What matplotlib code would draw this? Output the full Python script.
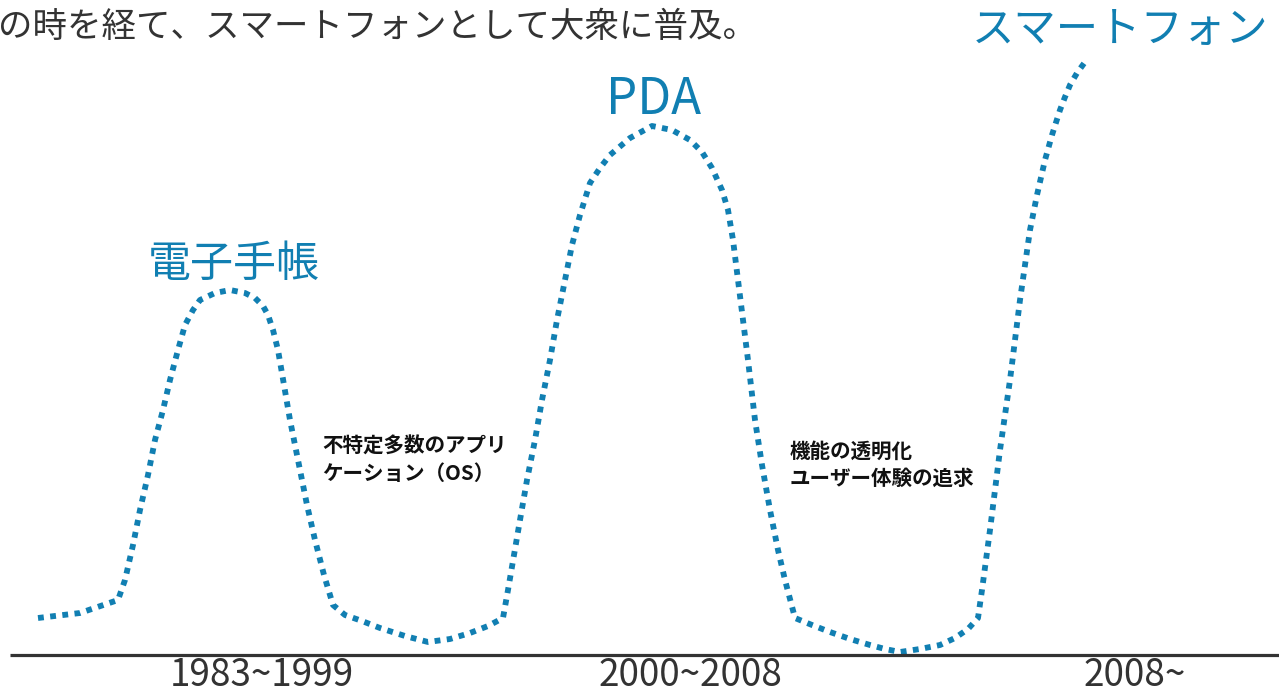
import matplotlib
matplotlib.use('Agg')
import matplotlib.pyplot as plt

plt.rcParams['font.family'] = ['Noto Sans CJK JP', 'DejaVu Sans']

BLUE = '#117fb2'
DARK = '#333333'

# curve (x to the right, y downward, in px)
curve_x = [38, 80, 118, 125, 133, 140, 148, 155, 163, 170, 178, 185, 193, 200, 215,
           230, 245, 255, 263, 268, 273, 278, 284, 290, 295, 300, 307, 315, 324, 333,
           345, 362, 380, 405, 428, 450, 470, 488, 503,
           508, 514, 520, 527, 535, 542, 550, 557, 565, 572, 580, 590, 600, 610,
           630, 652, 672, 690, 702, 712, 722, 728, 733, 738, 743, 748, 755, 762,
           770, 778, 785, 795,
           812, 830, 850, 870, 885, 900, 920, 940, 955, 968, 978,
           982, 986, 990, 995, 1000, 1005, 1010, 1015, 1020, 1025, 1030, 1037, 1045,
           1052, 1060, 1065, 1070, 1077, 1085]
curve_y = [618, 613, 600, 580, 545, 510, 475, 440, 410, 380, 350, 325, 310, 300, 293,
           290, 293, 298, 306, 315, 330, 350, 385, 420, 445, 470, 505, 540, 575, 605,
           615, 621, 628, 636, 642, 639, 633, 626, 618,
           590, 555, 520, 480, 440, 400, 360, 320, 280, 245, 215, 183, 168, 155,
           138, 126, 130, 140, 152, 168, 190, 210, 240, 280, 320, 360, 420, 465,
           510, 550, 580, 618,
           625, 632, 639, 645, 649, 652, 649, 645, 638, 629, 618,
           590, 560, 530, 490, 450, 415, 380, 340, 300, 265, 230, 195, 160,
           135, 110, 97, 85, 73, 62]

eras = ['1983~1999', '2000~2008', '2008~']
era_x = [262, 690, 1135]

peak_labels = ['電子手帳', 'PDA', 'スマートフォン']
peak_label_x = [234, 654, 1120]
peak_label_y = [265, 100, 30]
peak_label_size = [31, 35.5, 30.5]

notes = ['不特定多数のアプリ\nケーション（OS）', '機能の透明化\nユーザー体験の追求']
note_x = [322, 790]
note_y = [460, 465]

headline = 'の時を経て、スマートフォンとして大衆に普及。'

fig = plt.figure(figsize=(12.79, 6.95), dpi=100)
ax = fig.add_axes([0, 0, 1, 1])
ax.set_xlim(0, 1279)
ax.set_ylim(695, 0)
ax.axis('off')

ax.plot(curve_x, curve_y, color=BLUE, lw=4.2, dashes=(1, 1.1),
        dash_capstyle='butt', solid_joinstyle='round')

ax.plot([10, 1279], [655, 655], color=DARK, lw=2.3, solid_capstyle='butt')

for label, x in zip(eras, era_x):
    ax.text(x, 695, label, ha='center', va='bottom', fontsize=26.5, color=DARK)

for label, x, y, s in zip(peak_labels, peak_label_x, peak_label_y, peak_label_size):
    ax.text(x, y, label, ha='center', va='center', fontsize=s, color=BLUE)

for label, x, y in zip(notes, note_x, note_y):
    ax.text(x, y, label, ha='left', va='center', fontsize=14.8, color='#111111',
            fontweight='bold', linespacing=1.35)

ax.text(-2, 27, headline, ha='left', va='center', fontsize=24.8, color=DARK)

fig.savefig('out.png', dpi=100)
